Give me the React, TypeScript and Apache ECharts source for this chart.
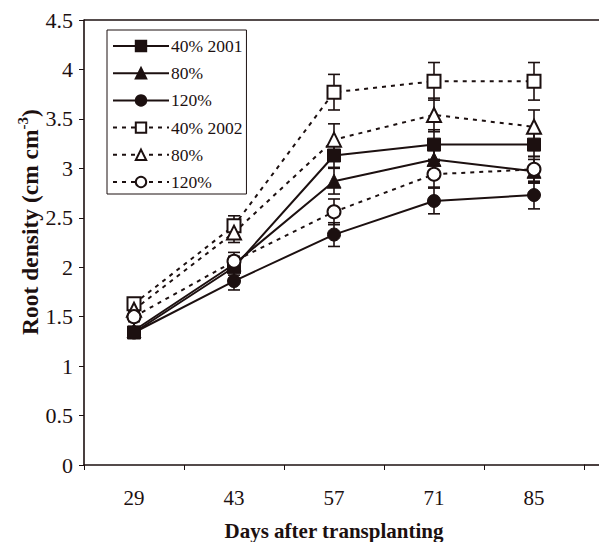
import React, { useEffect, useRef } from "react";
import * as echarts from "echarts";

// Days after transplanting (category axis)
const days = ["29", "43", "57", "71", "85"];

// Root density means, cm cm^-3
const sq2001 = [1.34, 2.0, 3.13, 3.24, 3.24];
const tri2001 = [1.36, 2.03, 2.87, 3.09, 2.97];
const cir2001 = [1.34, 1.86, 2.33, 2.67, 2.73];
const sq2002 = [1.63, 2.42, 3.77, 3.88, 3.88];
const tri2002 = [1.57, 2.35, 3.29, 3.54, 3.42];
const cir2002 = [1.5, 2.06, 2.56, 2.94, 2.99];

// Standard errors (half-length of the error bars)
const sq2001Err = [0.04, 0.08, 0.12, 0.15, 0.12];
const tri2001Err = [0.04, 0.08, 0.13, 0.12, 0.12];
const cir2001Err = [0.04, 0.09, 0.12, 0.13, 0.14];
const sq2002Err = [0.05, 0.1, 0.18, 0.19, 0.19];
const tri2002Err = [0.05, 0.1, 0.16, 0.17, 0.17];
const cir2002Err = [0.05, 0.09, 0.13, 0.13, 0.13];

const seriesNames = ["40% 2001", "80% 2001", "120% 2001", "40% 2002", "80% 2002", "120% 2002"];
const legendLabels = ["40% 2001", "80%", "120%", "40% 2002", "80%", "120%"];

// y-axis ticks
const yMin = 0;
const yMax = 4.5;
const yStep = 0.5;

const INK = "#1c1010";
const FONT = "'Liberation Serif', 'Times New Roman', serif";

type Spec = {
  name: string;
  values: number[];
  errors: number[];
  symbol: string;
  filled: boolean;
  dashed: boolean;
};

const specs: Spec[] = [
  { name: seriesNames[0], values: sq2001, errors: sq2001Err, symbol: "rect", filled: true, dashed: false },
  { name: seriesNames[1], values: tri2001, errors: tri2001Err, symbol: "triangle", filled: true, dashed: false },
  { name: seriesNames[2], values: cir2001, errors: cir2001Err, symbol: "circle", filled: true, dashed: false },
  { name: seriesNames[3], values: sq2002, errors: sq2002Err, symbol: "rect", filled: false, dashed: true },
  { name: seriesNames[4], values: tri2002, errors: tri2002Err, symbol: "triangle", filled: false, dashed: true },
  { name: seriesNames[5], values: cir2002, errors: cir2002Err, symbol: "circle", filled: false, dashed: true },
];

function errorBarSeries(s: Spec) {
  return {
    type: "custom",
    name: s.name + " SE",
    z: 1,
    silent: true,
    encode: { x: 0, y: [1, 2] },
    data: s.values.map((v, i) => [i, v - s.errors[i], v + s.errors[i]]),
    renderItem: (_params: any, api: any) => {
      const idx = api.value(0);
      const lo = api.coord([idx, api.value(1)]);
      const hi = api.coord([idx, api.value(2)]);
      const half = 6;
      const style = { stroke: INK, lineWidth: 1.6 };
      return {
        type: "group",
        children: [
          { type: "line", shape: { x1: lo[0], y1: lo[1], x2: hi[0], y2: hi[1] }, style },
          { type: "line", shape: { x1: lo[0] - half, y1: lo[1], x2: lo[0] + half, y2: lo[1] }, style },
          { type: "line", shape: { x1: hi[0] - half, y1: hi[1], x2: hi[0] + half, y2: hi[1] }, style },
        ],
      };
    },
  };
}

function lineSeries(s: Spec) {
  const size = s.symbol === "triangle" ? 14 : 13;
  return {
    type: "line",
    name: s.name,
    z: s.dashed ? 4 : 3,
    data: s.values,
    symbol: s.symbol,
    symbolSize: size,
    showAllSymbol: true,
    lineStyle: {
      color: INK,
      width: 2,
      type: s.dashed ? [4, 5] : "solid",
    },
    itemStyle: s.filled
      ? { color: INK, borderColor: INK, borderWidth: 1 }
      : { color: "#ffffff", borderColor: INK, borderWidth: 2 },
    emphasis: { disabled: true },
  };
}

export default function App() {
  const ref = useRef<HTMLDivElement>(null);

  useEffect(() => {
    if (!ref.current) return;
    const chart = echarts.init(ref.current, null, { renderer: "svg" });

    chart.setOption({
      animation: false,
      backgroundColor: "#ffffff",
      textStyle: { fontFamily: FONT, color: INK },
      grid: {
        left: 84,
        top: 20,
        width: 500,
        height: 445,
        containLabel: false,
        outerBoundsMode: "none",
      },
      legend: {
        data: seriesNames,
        orient: "vertical",
        left: 107,
        top: 30,
        itemWidth: 56,
        itemHeight: 13,
        itemGap: 9.2,
        padding: [7, 4, 3, 5],
        borderColor: INK,
        borderWidth: 1,
        backgroundColor: "#ffffff",
        selectedMode: false,
        formatter: (name: string) => legendLabels[seriesNames.indexOf(name)],
        textStyle: { fontFamily: FONT, fontSize: 17.5, color: INK, padding: [0, 0, 0, -3] },
      },
      xAxis: {
        type: "category",
        data: days,
        boundaryGap: true,
        axisLine: { lineStyle: { color: INK, width: 1.6 } },
        axisTick: { show: true, length: 5, lineStyle: { color: INK, width: 1 } },
        axisLabel: { fontFamily: FONT, fontSize: 21, color: INK, margin: 22 },
        name: "Days after transplanting",
        nameLocation: "middle",
        nameGap: 55,
        nameTextStyle: { fontFamily: FONT, fontSize: 21, fontWeight: "bold", color: INK },
      },
      yAxis: {
        type: "value",
        min: yMin,
        max: yMax,
        interval: yStep,
        splitLine: { show: false },
        axisLine: { show: true, lineStyle: { color: INK, width: 1.6 } },
        axisTick: { show: true, length: 5, lineStyle: { color: INK, width: 1 } },
        axisLabel: { fontFamily: FONT, fontSize: 22, color: INK, margin: 11 },
      },
      graphic: [
        // plot-area frame: top edge and the bottom edge running on past the last category
        { type: "line", shape: { x1: 84, y1: 20, x2: 599, y2: 20 }, style: { stroke: INK, lineWidth: 1.6 }, silent: true },
        { type: "line", shape: { x1: 584, y1: 465, x2: 599, y2: 465 }, style: { stroke: INK, lineWidth: 1.6 }, silent: true },
        {
          type: "text",
          x: 30,
          y: 222,
          rotation: Math.PI / 2,
          silent: true,
          style: {
            text: "Root density (cm cm{sup|-3})",
            fontFamily: FONT,
            fontSize: 23.5,
            fontWeight: "bold",
            fill: INK,
            align: "center",
            verticalAlign: "middle",
            rich: {
              sup: {
                fontFamily: FONT,
                fontSize: 15,
                fontWeight: "bold",
                fill: INK,
                padding: [0, 0, 14, 0],
              },
            },
          },
        },
      ],
      series: [...specs.map(errorBarSeries), ...specs.map(lineSeries)],
    });

    return () => chart.dispose();
  }, []);

  return (
    <div
      ref={ref}
      style={{ position: "fixed", left: 0, top: 0, width: 599, height: 542, background: "#ffffff" }}
    />
  );
}
